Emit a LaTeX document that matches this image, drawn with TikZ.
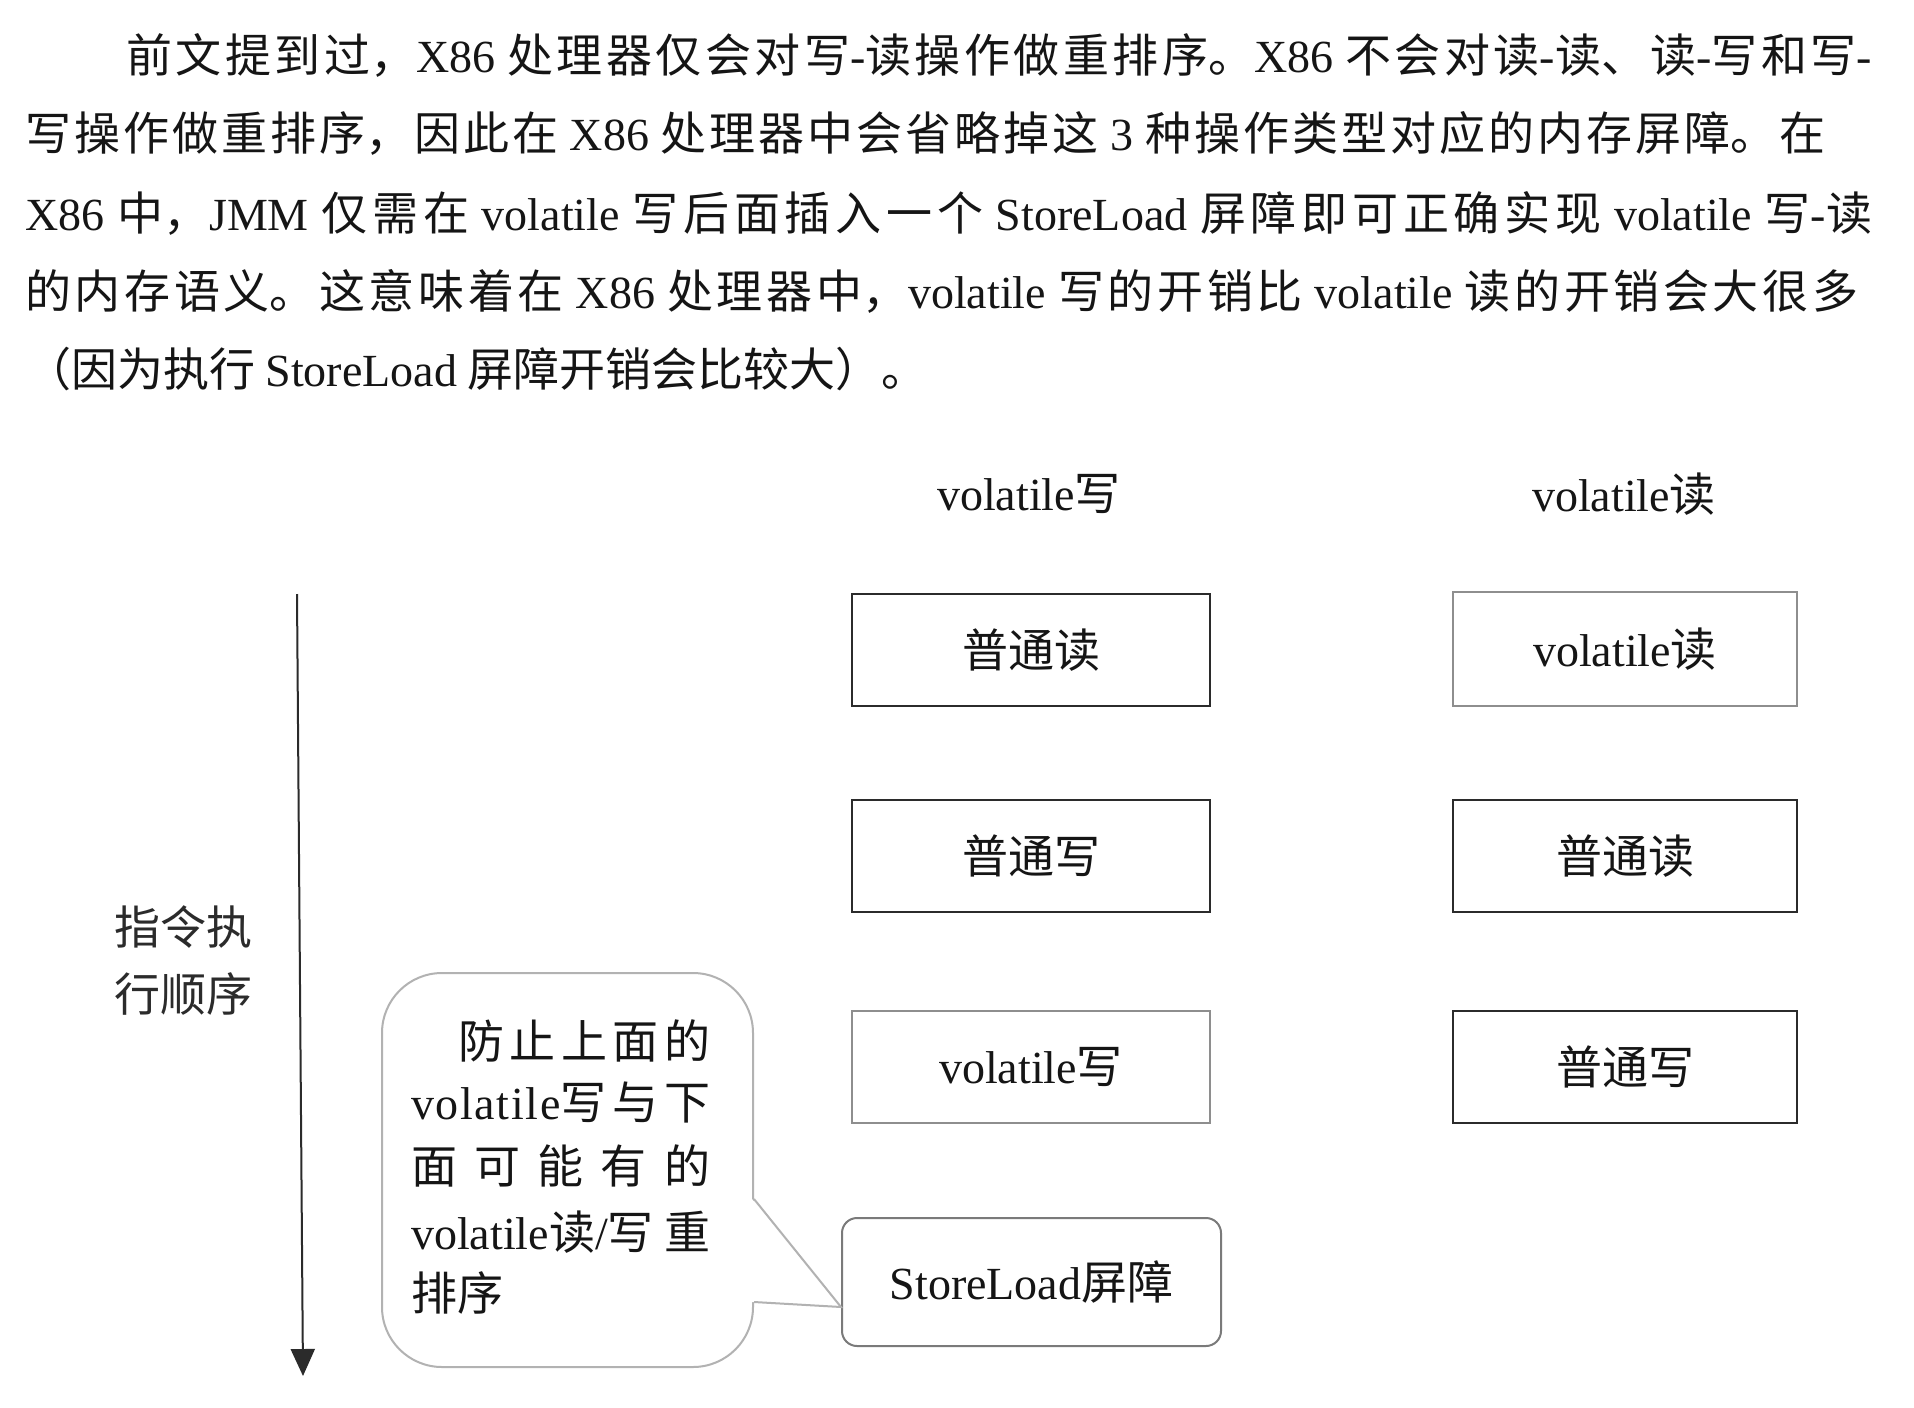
\documentclass[tikz,border=0pt]{standalone}
\usepackage{fontspec}
\setmainfont{Noto Sans CJK SC}
\newfontfamily\lat{Liberation Serif}
\newfontfamily\latwide[LetterSpace=3.5]{Liberation Serif}
\newcommand\en[1]{{\lat #1}}
\newcommand\enw[1]{{\latwide #1}}
\usetikzlibrary{arrows.meta,calc}
% allow stretch between ideographs so lines can be justified
\XeTeXlinebreaklocale "zh"
\XeTeXlinebreakskip=0pt plus 10pt
\hbadness=10000
\newcommand\justline[2]{\parbox[b]{#1}{\parfillskip=0pt\relax #2}}
\definecolor{ink}{HTML}{151515}
\definecolor{darkedge}{HTML}{2B2B2B}
\definecolor{lightedge}{HTML}{8E8E8E}
\definecolor{midedge}{HTML}{7A7A7A}
\definecolor{bubbleedge}{HTML}{B2B2B2}
\begin{document}
\begin{tikzpicture}[x=1pt,y=-1pt,
  txt/.style={inner sep=0pt, text=ink, font=\fontsize{46}{60}\selectfont},
  opbox/.style={draw=#1, line width=2.5pt, minimum width=358pt, minimum height=112pt,
                inner sep=0pt, text=ink, font=\fontsize{46}{60}\selectfont},
  rbox/.style={opbox=#1, minimum width=344pt},
  bubbleline/.style={draw=bubbleedge, line width=2pt}]
\useasboundingbox[fill=white] (0,0) rectangle (1914,1408);

% paragraph above the figure
\node[txt, anchor=base west] (p1) at (126,72)
  {\justline{1746pt}{前文提到过，\en{X86} 处理器仅会对写\en{-}读操作做重排序。\en{X86} 不会对读\en{-}读、读\en{-}写和写\en{-}}};
\node[txt, anchor=base west] (p2) at (25,150)
  {\justline{1800pt}{写操作做重排序，因此在 \en{X86} 处理器中会省略掉这 \en{3} 种操作类型对应的内存屏障。在}};
\node[txt, anchor=base west] (p3) at (25,230)
  {\justline{1847pt}{\en{X86} 中，\en{JMM} 仅需在 \en{volatile} 写后面插入一个 \en{StoreLoad} 屏障即可正确实现 \en{volatile} 写\en{-}读}};
\node[txt, anchor=base west] (p4) at (25,308)
  {\justline{1833pt}{的内存语义。这意味着在 \en{X86} 处理器中，\en{volatile} 写的开销比 \en{volatile} 读的开销会大很多}};
\node[txt, anchor=base west] (p5) at (25,386)
  {（因为执行 \en{StoreLoad} 屏障开销会比较大）。};

% column headers
\node[txt] (hw) at (1029,494) {\en{volatile}写};
\node[txt] (hr) at (1624,494) {\en{volatile}读};

% volatile write column
\node[opbox=darkedge] (w1) at (1031,650) {普通读};
\node[opbox=darkedge] (w2) at (1031,856) {普通写};
\node[opbox=lightedge, line width=2pt] (w3) at (1031,1067) {\en{volatile}写};
\node[opbox=midedge, line width=2pt, rounded corners=15pt, minimum width=379pt, minimum height=128pt] (sl) at (1031.5,1282) {\en{StoreLoad}屏障};

% volatile read column
\node[rbox=lightedge, line width=2pt, minimum height=114pt] (r1) at (1625,649) {\en{volatile}读};
\node[rbox=darkedge] (r2) at (1625,856) {普通读};
\node[rbox=darkedge] (r3) at (1625,1067) {普通写};

% execution order arrow
\coordinate (otop) at (297,594);
\coordinate (obot) at (303,1376);
\draw[draw=darkedge, line width=2pt, -{Triangle[width=24pt,length=27pt]}] (otop) -- (obot);
\node[txt, align=left, font=\fontsize{46}{67}\selectfont, text=darkedge] (ord) at (183,961) {指令执\\行顺序};

% callout
\node[bubbleline, rounded corners=60pt, minimum width=371pt, minimum height=394pt] (note) at (567.5,1170) {};
\coordinate (ptip) at ($(sl.west)+(0,25)$);
\coordinate (pa) at ($(note.east)+(0,29)$);
\coordinate (pb) at ($(note.east)+(0,132)$);
\fill[white] ($(pa)+(-2,0)$) -- (ptip) -- ($(pb)+(-2,0)$) -- cycle;
\draw[bubbleline] (pa) -- (ptip) -- (pb);

\node[txt, anchor=base west] (b1) at (411,1058) {\justline{299pt}{\hspace*{47pt}防止上面的}};
\node[txt, anchor=base west] (b2) at (411,1119) {\justline{299pt}{\enw{volatile}写与下}};
\node[txt, anchor=base west] (b3) at (411,1183) {\justline{299pt}{面可能有的}};
\node[txt, anchor=base west] (b4) at (411,1249) {\justline{299pt}{\en{volatile}读\en{/}写重}};
\node[txt, anchor=base west] (b5) at (411,1310) {排序};
\end{tikzpicture}
\end{document}
